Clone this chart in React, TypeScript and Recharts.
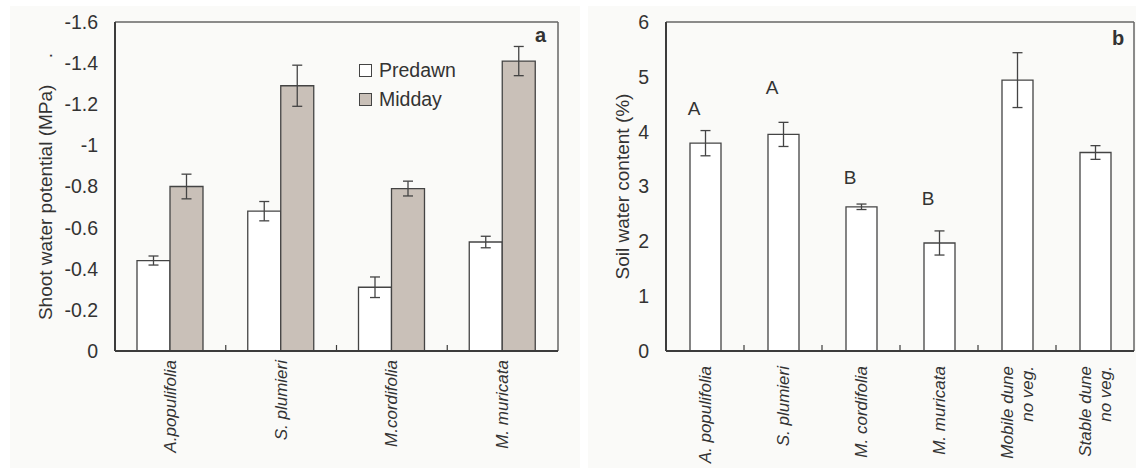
import React from 'react';
import { ComposedChart, Bar, XAxis, YAxis, ErrorBar, CartesianGrid, Scatter } from 'recharts';

const FONT = '"Liberation Sans", Arial, sans-serif';
const INK = '#333333';
const AXIS = '#3c3c3c';

// panel a: shoot water potential
const speciesA = ['A.populifolia', 'S. plumieri', 'M.cordifolia', 'M. muricata'];
const predawn = [-0.44, -0.68, -0.31, -0.53];
const predawnErr = [0.022, 0.047, 0.05, 0.028];
const midday = [-0.8, -1.29, -0.79, -1.41];
const middayErr = [0.06, 0.1, 0.036, 0.071];
const ticksA = [0, -0.2, -0.4, -0.6, -0.8, -1, -1.2, -1.4, -1.6];
const seriesNames = ['Predawn', 'Midday'];

// panel b: soil water content
const sitesB = ['A. populifolia', 'S. plumieri', 'M. cordifolia', 'M. muricata', 'Mobile dune\nno veg.', 'Stable dune\nno veg.'];
const soilWater = [3.79, 3.95, 2.63, 1.97, 4.94, 3.62];
const soilErr = [0.23, 0.22, 0.05, 0.22, 0.5, 0.125];
const groupLetters = ['A', 'A', 'B', 'B', '', ''];
const letterPos = [4.43, 4.8, 3.17, 2.79, null, null];
const ticksB = [0, 1, 2, 3, 4, 5, 6];

const dataA = speciesA.map((name, i) => ({
  name,
  predawn: predawn[i],
  predawnErr: predawnErr[i],
  midday: midday[i],
  middayErr: middayErr[i],
}));

const dataB = sitesB.map((name, i) => ({
  name,
  soil: soilWater[i],
  soilErr: soilErr[i],
  letter: groupLetters[i],
  letterPos: letterPos[i],
}));

const PREDAWN_FILL = '#ffffff';
const MIDDAY_FILL = '#c9c0b8';

function CategoryTick(props: any) {
  const { x, y, payload, index, gap, count } = props;
  const lines = String(payload.value).split('\n');
  const half = payload.offset || 0;
  return (
    <g>
      {index < count - 1 && half > 0 && (
        <line x1={x + half} x2={x + half} y1={y} y2={y - 6} stroke={AXIS} strokeWidth={1.2} />
      )}
      {lines.map((ln, i) => {
        const lx = x + (i - (lines.length - 1) / 2) * 20;
        return (
          <text
            key={i}
            transform={`translate(${lx},${y + gap}) rotate(-90)`}
            textAnchor="end"
            dominantBaseline="central"
            fontStyle="italic"
            fontSize={17}
            fontFamily={FONT}
            fill={INK}
          >
            {ln}
          </text>
        );
      })}
    </g>
  );
}

const renderLetter = (p: any) => {
  if (!p.payload || !p.payload.letter) return <g />;
  return (
    <text x={p.cx - 11} y={p.cy} textAnchor="middle" dominantBaseline="central" fontSize={19} fontFamily={FONT} fill={INK}>
      {p.payload.letter}
    </text>
  );
};

const topLine = (p: any) => (p.offset ? [p.offset.top] : []);
const rightLine = (p: any) => (p.offset ? [p.offset.left + p.offset.width] : []);

const tickStyle = { fontSize: 19.5, fill: INK, fontFamily: FONT };

function ShootChart() {
  return (
    <ComposedChart width={580} height={468} data={dataA} margin={{ top: 22, right: 22, bottom: 37, left: 55 }} barGap={0}>
      <CartesianGrid stroke="#666" strokeWidth={1.5} horizontalCoordinatesGenerator={topLine} verticalCoordinatesGenerator={rightLine} />
      <XAxis
        dataKey="name"
        interval={0}
        height={80}
        tickLine={false}
        tickSize={0}
        tickMargin={0}
        axisLine={{ stroke: AXIS, strokeWidth: 2 }}
        tick={<CategoryTick gap={9} count={speciesA.length} />}
      />
      <YAxis
        type="number"
        domain={[-1.6, 0]}
        reversed
        ticks={ticksA}
        interval={0}
        width={60}
        tickLine={false}
        tickSize={0}
        tickMargin={17}
        axisLine={{ stroke: AXIS, strokeWidth: 2 }}
        tick={tickStyle}
        label={{
          value: 'Shoot water potential (MPa)\u00a0\u00a0\u00a0\u00a0\u00a0.',
          angle: -90,
          position: 'center',
          dx: -40,
          style: { fontSize: 19, fill: INK, fontFamily: FONT, textAnchor: 'middle' },
        }}
      />
      <Bar dataKey="predawn" name={seriesNames[0]} fill={PREDAWN_FILL} stroke="#444" strokeWidth={1.3} barSize={33} isAnimationActive={false}>
        <ErrorBar dataKey="predawnErr" width={5} stroke="#444" strokeWidth={1.3} />
      </Bar>
      <Bar dataKey="midday" name={seriesNames[1]} fill={MIDDAY_FILL} stroke="#444" strokeWidth={1.3} barSize={33} isAnimationActive={false}>
        <ErrorBar dataKey="middayErr" width={5} stroke="#444" strokeWidth={1.3} />
      </Bar>
    </ComposedChart>
  );
}

function SoilChart() {
  return (
    <ComposedChart width={548} height={468} data={dataB} margin={{ top: 22, right: 2, bottom: 37, left: 18 }}>
      <CartesianGrid stroke="#666" strokeWidth={1.5} horizontalCoordinatesGenerator={topLine} verticalCoordinatesGenerator={rightLine} />
      <XAxis
        dataKey="name"
        interval={0}
        height={80}
        tickLine={false}
        tickSize={0}
        tickMargin={0}
        axisLine={{ stroke: AXIS, strokeWidth: 2 }}
        tick={<CategoryTick gap={15} count={sitesB.length} />}
      />
      <YAxis
        type="number"
        domain={[0, 6]}
        ticks={ticksB}
        interval={0}
        width={60}
        tickLine={false}
        tickSize={0}
        tickMargin={17}
        axisLine={{ stroke: AXIS, strokeWidth: 2 }}
        tick={tickStyle}
        label={{
          value: 'Soil water content (%)',
          angle: -90,
          position: 'center',
          dx: -14,
          style: { fontSize: 19, fill: INK, fontFamily: FONT, textAnchor: 'middle' },
        }}
      />
      <Bar dataKey="soil" fill="#ffffff" stroke="#444" strokeWidth={1.3} barSize={31} isAnimationActive={false}>
        <ErrorBar dataKey="soilErr" width={5} stroke="#444" strokeWidth={1.3} />
      </Bar>
      <Scatter dataKey="letterPos" shape={renderLetter} isAnimationActive={false} />
    </ComposedChart>
  );
}

function LegendBox() {
  const fills = [PREDAWN_FILL, MIDDAY_FILL];
  return (
    <div style={{ position: 'absolute', left: 359, top: 56, fontFamily: FONT, fontSize: 19.5, color: INK }}>
      {seriesNames.map((n, i) => (
        <div key={n} style={{ display: 'flex', alignItems: 'center', height: 29 }}>
          <span style={{ width: 11, height: 11, border: '1px solid #444', background: fills[i], marginRight: 7 }} />
          {n}
        </div>
      ))}
    </div>
  );
}

export default function App() {
  const panelLetter = { position: 'absolute' as const, fontFamily: FONT, fontWeight: 700, fontSize: 20, lineHeight: '20px', color: INK };
  return (
    <div style={{ position: 'absolute', left: 0, top: 0, width: 1136, height: 468, background: '#ffffff', overflow: 'hidden' }}>
      <div style={{ position: 'absolute', left: 10, top: 6, width: 570, height: 462, background: '#fafaf8' }} />
      <div style={{ position: 'absolute', left: 588, top: 6, width: 548, height: 462, background: '#fafaf8' }} />
      <div style={{ position: 'absolute', left: 0, top: 0 }}>
        <ShootChart />
      </div>
      <div style={{ position: 'absolute', left: 588, top: 0 }}>
        <SoilChart />
      </div>
      <LegendBox />
      <div style={{ ...panelLetter, left: 535, top: 25 }}>a</div>
      <div style={{ ...panelLetter, left: 1112, top: 28 }}>b</div>
    </div>
  );
}
